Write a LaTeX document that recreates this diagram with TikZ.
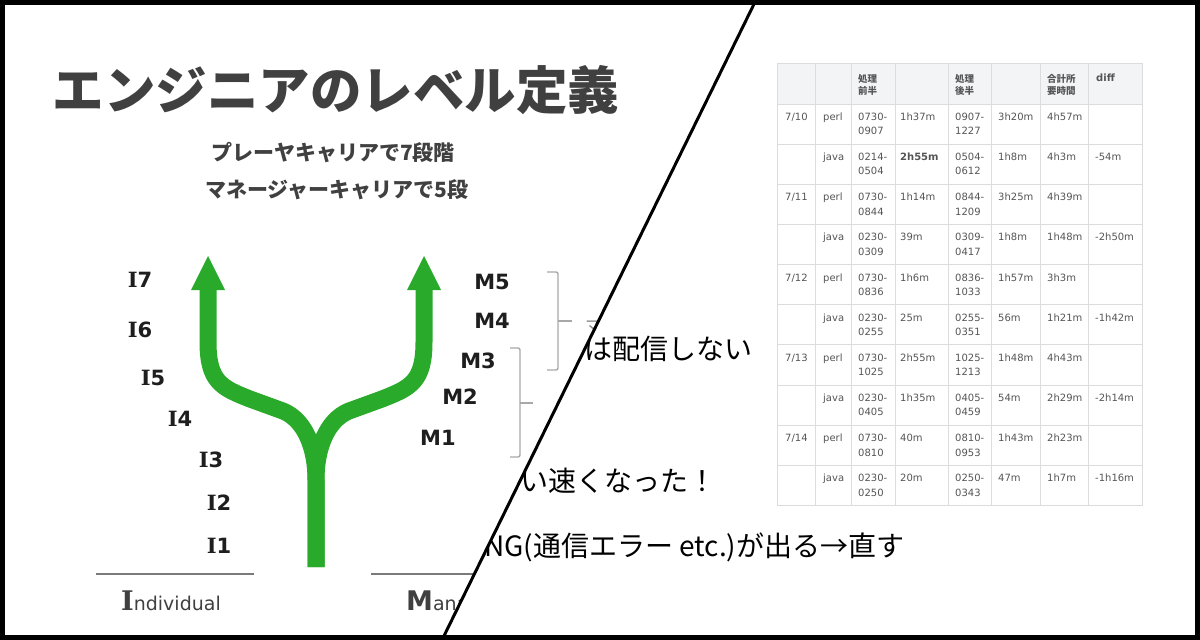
\documentclass[tikz,border=0pt]{standalone}
\usepackage{fontspec}
\newfontfamily\jp{Noto Sans CJK JP}
\newfontfamily\dv{DejaVu Sans}
\newfontfamily\dvs{DejaVu Serif}
\definecolor{ttl}{HTML}{404040}
\definecolor{labk}{HTML}{1E1E1E}
\definecolor{grn}{RGB}{42,170,42}
\definecolor{brk}{HTML}{A8A8A8}
\definecolor{uline}{HTML}{7A7A7A}
\definecolor{tline}{HTML}{DCDCDC}
\definecolor{thead}{HTML}{F2F4F6}
\definecolor{ttext}{HTML}{555555}
\begin{document}
\begin{tikzpicture}[x=1pt,y=-1pt,
  titlestyle/.style={inner sep=0, text=ttl, font=\jp\bfseries\fontsize{51.5}{60}\selectfont},
  substyle/.style={inner sep=0, text=ttl, font=\jp\bfseries\fontsize{21}{25}\selectfont},
  ilbl/.style={inner sep=0, text=labk, font=\dv\bfseries\fontsize{21}{24}\selectfont},
  mlbl/.style={inner sep=0, text=labk, font=\dv\bfseries\fontsize{21}{25}\selectfont},
  branch/.style={draw=grn, line width=17pt, line cap=butt, line join=round},
  bracket/.style={draw=brk, line width=1.4pt, rounded corners=2pt},
  axisline/.style={draw=uline, line width=2pt},
  bigtxt/.style={inner sep=0, anchor=west, text=black, font=\jp\fontsize{28}{32}\selectfont},
  cell/.style={inner sep=0, anchor=base west, text=ttext, font=\dv\fontsize{10}{12}\selectfont},
  hcell/.style={inner sep=0, anchor=west, text=ttext, font=\jp\bfseries\fontsize{9.5}{11}\selectfont},
]
\useasboundingbox (0,0) rectangle (1200,640);
\fill[white] (0,0) rectangle (1200,640);

% ---------- left half: slide ----------
\begin{scope}
\clip (0,0) -- (756,0) -- (442,640) -- (0,640) -- cycle;
\node[titlestyle] (title) at (336,90) {エンジニアのレベル定義};
\node[substyle] (sub1) at (333,153) {プレーヤキャリアで7段階};
\node[substyle] (sub2) at (337,190) {マネージャーキャリアで5段};

% green Y arrow
\draw[branch] (316,567) -- (316,480) .. controls (316,448) and (305,420) .. (283,411)
  -- (250,399) .. controls (222,388) and (208,382) .. (208,342) -- (208,287);
\draw[branch] (316,567) -- (316,480) .. controls (316,448) and (327,420) .. (349,411)
  -- (382,399) .. controls (410,388) and (424,382) .. (424,342) -- (424,287);
\fill[grn] (191,290) -- (225,290) -- (208,256) -- cycle;
\fill[grn] (407,290) -- (441,290) -- (424,256) -- cycle;

% individual levels
\node[ilbl] (i7) at (140,280) {{\dvs\bfseries I}7};
\node[ilbl] (i6) at (140,330) {{\dvs\bfseries I}6};
\node[ilbl] (i5) at (153,378) {{\dvs\bfseries I}5};
\node[ilbl] (i4) at (180,419) {{\dvs\bfseries I}4};
\node[ilbl] (i3) at (211,460) {{\dvs\bfseries I}3};
\node[ilbl] (i2) at (219,503) {{\dvs\bfseries I}2};
\node[ilbl] (i1) at (219,546) {{\dvs\bfseries I}1};

% manager levels
\node[mlbl] (m5) at (492,282) {M5};
\node[mlbl] (m4) at (492,321) {M4};
\node[mlbl] (m3) at (478,361) {M3};
\node[mlbl] (m2) at (460,397) {M2};
\node[mlbl] (m1) at (438,438) {M1};

% brackets
\draw[bracket] (547,272) -- (558,272) -- (558,370) -- (547,370);
\draw[bracket] (558,321) -- (572,321);
\draw[bracket] (510,348) -- (520,348) -- (520,457) -- (510,457);
\draw[bracket] (520,403) -- (533,403);
\node[inner sep=0, anchor=base west, text=brk!80!black, font=\jp\fontsize{17}{20}\selectfont] (frag) at (585,332) {マ};

% baselines and captions
\draw[axisline] (96,574) -- (254,574);
\draw[axisline] (371,574) -- (520,574);
\node[inner sep=0, anchor=base west, text=ttl] (indiv) at (121,610)
  {{\dvs\bfseries\fontsize{27}{30}\selectfont I}{\dv\fontsize{19}{22}\selectfont ndividual}};
\node[inner sep=0, anchor=base west, text=ttl] (manag) at (406,610)
  {{\dv\bfseries\fontsize{27}{30}\selectfont M}{\dv\fontsize{19}{22}\selectfont anager}};
\end{scope}

% ---------- right half: notes and table ----------
\begin{scope}
\clip (756,0) -- (1200,0) -- (1200,640) -- (442,640) -- cycle;
\node[bigtxt] (note1) at (584,349) {は配信しない};
\node[bigtxt] (note2) at (492,481) {らい速くなった！};
\node[bigtxt] (note3) at (484,547) {NG(通信エラー etc.)が出る→直す};

% table
\fill[thead] (777,63) rectangle (1142,104);
\foreach \yy in {63,104,144.15,184.3,224.45,264.6,304.75,344.9,385.05,425.2,465.35,505.5}
  \draw[tline, line width=1pt] (777,\yy) -- (1142,\yy);
\foreach \xx in {777,815,851,895,948,991,1040,1088,1142}
  \draw[tline, line width=1pt] (\xx,63) -- (\xx,505.5);

\node[hcell] (h3a) at (858,79) {処理};
\node[hcell] (h3b) at (858,91) {前半};
\node[hcell] (h5a) at (955,79) {処理};
\node[hcell] (h5b) at (955,91) {後半};
\node[hcell] (h7a) at (1047,79) {合計所};
\node[hcell] (h7b) at (1047,91) {要時間};
\node[hcell, font=\dv\bfseries\fontsize{10}{12}\selectfont] (h8) at (1096,78) {diff};

\foreach \dt/\lg/\pa/\pm/\ta/\pe/\tb/\tot/\df [count=\r] in {
  {7/10}/perl/0730/0907/1h37m/1227/3h20m/4h57m/{},
  {}/java/0214/0504/{\bfseries 2h55m}/0612/1h8m/4h3m/-54m,
  {7/11}/perl/0730/0844/1h14m/1209/3h25m/4h39m/{},
  {}/java/0230/0309/39m/0417/1h8m/1h48m/-2h50m,
  {7/12}/perl/0730/0836/1h6m/1033/1h57m/3h3m/{},
  {}/java/0230/0255/25m/0351/56m/1h21m/-1h42m,
  {7/13}/perl/0730/1025/2h55m/1213/1h48m/4h43m/{},
  {}/java/0230/0405/1h35m/0459/54m/2h29m/-2h14m,
  {7/14}/perl/0730/0810/40m/0953/1h43m/2h23m/{},
  {}/java/0230/0250/20m/0343/47m/1h7m/-1h16m}{
  \pgfmathsetmacro\ry{104+40.15*(\r-1)+16.5}
  \node[cell] (dt\r) at (785,\ry) {\dt};
  \node[cell] (lg\r) at (823,\ry) {\lg};
  \node[cell] (pa\r) at (858,\ry) {\pa-};
  \node[cell] (pb\r) at (858,\ry+14.3) {\pm};
  \node[cell] (ta\r) at (900,\ry) {\ta};
  \node[cell] (qa\r) at (955,\ry) {\pm-};
  \node[cell] (qb\r) at (955,\ry+14.3) {\pe};
  \node[cell] (tb\r) at (998,\ry) {\tb};
  \node[cell] (tt\r) at (1047,\ry) {\tot};
  \node[cell] (df\r) at (1095,\ry) {\df};
}
\end{scope}

% divider and frame
\draw[line width=3pt] (756,0) -- (442,640);
\draw[line width=5pt] (2.5,2.5) rectangle (1197.5,637.5);
\end{tikzpicture}
\end{document}
